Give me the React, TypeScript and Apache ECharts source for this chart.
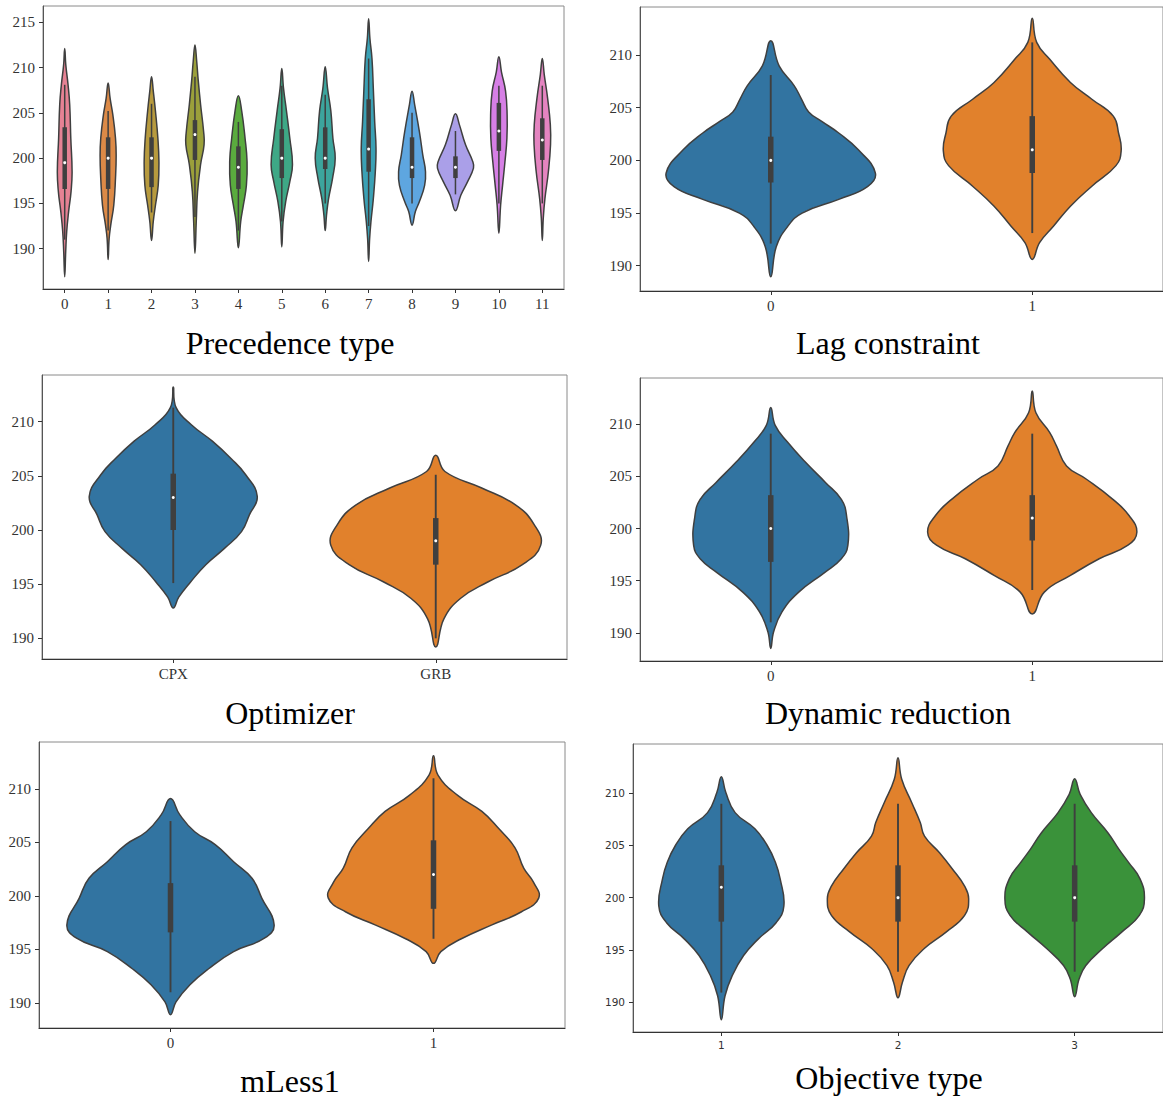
import React, { useEffect, useRef } from "react";
import * as echarts from "echarts";

const EDGE = "#3f3f3f";
const BLUE = "#3274a1";
const ORANGE = "#e1812c";
const GREEN = "#3a923a";

// ---------- Panel 1: Precedence type ----------
const precedenceCategories = ["0", "1", "2", "3", "4", "5", "6", "7", "8", "9", "10", "11"];
const precedenceColors = ["#e68294", "#dc8a47", "#b79a3e", "#9ba03b", "#5aab3e", "#3ea886", "#3ca59d", "#3ba1b5", "#5ea6e0", "#aa9fe8", "#d67fe5", "#e484c0"];
// violin outline: [value, half width as share of category band]
const prec0 = [[212.1, 0], [210.3, 0.025], [208.1, 0.077], [205.9, 0.115], [202.2, 0.14], [198.5, 0.17], [196.3, 0.146], [194.1, 0.09], [191.9, 0.046], [189.7, 0.023], [186.9, 0]];
const prec1 = [[208.3, 0], [206.6, 0.046], [204.8, 0.108], [202.2, 0.17], [200.3, 0.185], [197.8, 0.17], [194.8, 0.13], [192.6, 0.06], [191.1, 0.023], [188.8, 0]];
const prec2 = [[209.0, 0], [207.4, 0.04], [205.2, 0.09], [202.2, 0.146], [199.6, 0.17], [197.0, 0.154], [194.8, 0.09], [193.0, 0.04], [190.9, 0]];
const prec3 = [[212.5, 0], [210.7, 0.04], [208.5, 0.077], [205.9, 0.13], [202.9, 0.2], [201.5, 0.21], [199.3, 0.13], [196.3, 0.06], [193.0, 0.03], [189.5, 0]];
const prec4 = [[206.9, 0], [205.2, 0.077], [202.2, 0.154], [199.6, 0.2], [197.0, 0.185], [194.8, 0.115], [193.0, 0.054], [190.1, 0]];
const prec5 = [[209.9, 0], [207.7, 0.04], [205.2, 0.108], [202.2, 0.185], [199.3, 0.246], [197.4, 0.185], [195.2, 0.09], [193.0, 0.03], [190.2, 0]];
const prec6 = [[210.1, 0], [207.7, 0.054], [205.2, 0.13], [202.2, 0.177], [200.0, 0.23], [197.8, 0.17], [195.5, 0.077], [193.7, 0.03], [192.0, 0]];
const prec7 = [[215.4, 0], [213.2, 0.03], [211.0, 0.077], [207.7, 0.108], [204.0, 0.14], [201.1, 0.17], [198.5, 0.154], [195.5, 0.108], [193.0, 0.054], [191.1, 0.023], [188.6, 0]];
const prec8 = [[207.4, 0], [205.9, 0.06], [202.9, 0.17], [200.4, 0.246], [198.5, 0.31], [197.0, 0.29], [195.2, 0.17], [194.1, 0.077], [192.6, 0]];
const prec9 = [[204.9, 0], [203.7, 0.09], [201.5, 0.23], [199.6, 0.4], [198.9, 0.415], [197.4, 0.28], [195.9, 0.123], [194.2, 0]];
const prec10 = [[211.2, 0], [209.5, 0.06], [207.4, 0.154], [204.8, 0.19], [202.2, 0.185], [199.6, 0.14], [197.0, 0.085], [194.8, 0.04], [191.7, 0]];
const prec11 = [[211.0, 0], [209.2, 0.046], [206.6, 0.123], [203.7, 0.185], [201.5, 0.19], [198.5, 0.14], [195.5, 0.06], [193.4, 0.023], [190.9, 0]];
const precedenceShapes = [prec0, prec1, prec2, prec3, prec4, prec5, prec6, prec7, prec8, prec9, prec10, prec11];
// [lower whisker, q1, median, q3, upper whisker]
const precedenceStats = [
  [191.0, 196.6, 199.5, 203.4, 208.1],
  [192.0, 196.6, 200.0, 202.3, 205.2],
  [194.0, 196.8, 200.0, 202.3, 206.0],
  [193.5, 199.8, 202.6, 204.2, 209.0],
  [192.0, 196.6, 199.0, 201.3, 204.0],
  [193.0, 197.8, 200.0, 203.2, 208.0],
  [195.0, 198.8, 200.0, 203.4, 207.0],
  [192.5, 198.5, 201.0, 206.5, 211.0],
  [195.0, 197.8, 199.0, 202.3, 205.0],
  [196.0, 197.8, 199.0, 200.2, 203.0],
  [195.0, 200.8, 203.0, 206.1, 208.0],
  [195.0, 199.8, 202.0, 204.4, 208.0],
];
const precedenceTicks = [190, 195, 200, 205, 210, 215];

// ---------- Panel 2: Lag constraint ----------
const lagCategories = ["0", "1"];
const lag0 = [[211.36, 0], [208.98, 0.032], [207.08, 0.09], [205.8, 0.118], [204.6, 0.145], [203.7, 0.195], [202.6, 0.26], [201.0, 0.335], [198.8, 0.4], [197.5, 0.37], [196.3, 0.26], [195.0, 0.12], [193.7, 0.064], [191.8, 0.021], [188.95, 0]];
const lag1 = [[213.5, 0], [211.2, 0.017], [209.6, 0.067], [207.4, 0.146], [205.8, 0.228], [204.2, 0.31], [202.6, 0.33], [200.9, 0.34], [199.5, 0.32], [197.55, 0.228], [195.65, 0.146], [193.75, 0.081], [192.2, 0.028], [190.6, 0]];
const lagStats = [
  [192.1, 197.9, 200.0, 202.25, 208.1],
  [193.1, 198.8, 201.0, 204.2, 211.2],
];

// ---------- Panel 3: Optimizer ----------
const optimizerCategories = ["CPX", "GRB"];
const optCPX = [[213.2, 0], [211.3, 0.011], [209.7, 0.07], [208.2, 0.149], [206.6, 0.22], [205.1, 0.276], [203.1, 0.32], [201.4, 0.29], [199.85, 0.26], [198.3, 0.195], [196.8, 0.124], [195.2, 0.066], [193.8, 0.021], [192.8, 0]];
const optGRB = [[206.9, 0], [205.4, 0.035], [203.9, 0.173], [202.3, 0.305], [200.5, 0.375], [198.6, 0.4], [196.8, 0.33], [195.2, 0.198], [193.7, 0.095], [191.8, 0.031], [189.2, 0]];
const optimizerStats = [
  [195.1, 200.0, 203.0, 205.2, 211.3],
  [190.0, 196.8, 199.0, 201.1, 205.1],
];

// ---------- Panel 4: Dynamic reduction ----------
const dynamicCategories = ["0", "1"];
const dyn0 = [[211.6, 0], [209.9, 0.017], [208.3, 0.064], [206.3, 0.135], [204.4, 0.21], [202.8, 0.27], [201.2, 0.29], [198.4, 0.295], [197.1, 0.27], [195.8, 0.207], [193.9, 0.107], [192.0, 0.043], [190.1, 0.011], [188.5, 0]];
const dyn1 = [[213.2, 0], [211.1, 0.014], [209.2, 0.067], [207.9, 0.093], [206.0, 0.131], [204.75, 0.206], [202.85, 0.306], [201.25, 0.37], [199.65, 0.4], [198.4, 0.366], [197.1, 0.256], [195.5, 0.146], [193.9, 0.046], [191.8, 0]];
const dynamicStats = [
  [191.0, 196.8, 200.0, 203.2, 209.1],
  [194.1, 198.85, 201.0, 203.2, 209.1],
];

// ---------- Panel 5: mLess1 ----------
const mLessCategories = ["0", "1"];
const ml0 = [[209.1, 0], [207.6, 0.035], [206.0, 0.092], [204.8, 0.17], [203.2, 0.24], [201.65, 0.31], [199.8, 0.347], [197.3, 0.394], [196.05, 0.357], [194.8, 0.24], [193.2, 0.145], [191.7, 0.074], [190.1, 0.021], [188.9, 0]];
const ml1 = [[213.1, 0], [211.3, 0.017], [209.4, 0.092], [207.9, 0.184], [206.3, 0.248], [204.5, 0.31], [202.6, 0.343], [201.3, 0.38], [199.8, 0.4], [198.5, 0.333], [197.3, 0.222], [196.0, 0.106], [194.8, 0.028], [193.7, 0]];
const mLessStats = [
  [191.0, 196.6, 198.9, 201.2, 207.0],
  [196.0, 198.8, 202.0, 205.2, 211.0],
];

// ---------- Panel 6: Objective type ----------
const objectiveCategories = ["1", "2", "3"];
const obj1 = [[211.6, 0], [210.1, 0.025], [208.15, 0.078], [206.6, 0.19], [205.0, 0.26], [203.4, 0.306], [201.8, 0.333], [199.2, 0.354], [197.6, 0.31], [196.05, 0.21], [194.45, 0.126], [192.5, 0.061], [190.6, 0.021], [188.3, 0]];
const obj2 = [[213.4, 0], [211.35, 0.021], [209.1, 0.078], [207.2, 0.126], [205.9, 0.15], [204.3, 0.235], [202.7, 0.31], [201.1, 0.377], [199.9, 0.4], [198.3, 0.377], [196.7, 0.272], [195.1, 0.147], [193.5, 0.063], [191.9, 0.025], [190.4, 0]];
const obj3 = [[211.4, 0], [209.9, 0.031], [208.15, 0.094], [206.2, 0.189], [204.65, 0.25], [203.4, 0.304], [201.8, 0.37], [199.9, 0.395], [198.3, 0.366], [196.7, 0.266], [195.1, 0.157], [193.5, 0.063], [192.2, 0.025], [190.5, 0]];
const objectiveStats = [
  [190.9, 197.7, 201.0, 203.1, 209.0],
  [192.9, 197.7, 200.0, 203.1, 209.0],
  [192.9, 197.7, 200.0, 203.1, 209.0],
];

const smallTicks = [190, 195, 200, 205, 210];

const panels = [
  { title: "Precedence type", cats: precedenceCategories, shapes: precedenceShapes, stats: precedenceStats, colors: precedenceColors, ticks: precedenceTicks,
    grid: { left: 43, top: 6, width: 521, height: 283 }, yMin: 185.55, yMax: 216.8, tx: 290, ty: 343, font: "Liberation Serif", fs: 15, boxW: 4.5, whW: 1.5 },
  { title: "Lag constraint", cats: lagCategories, shapes: [lag0, lag1], stats: lagStats, colors: [BLUE, ORANGE], ticks: smallTicks,
    grid: { left: 640, top: 7, width: 524, height: 284 }, yMin: 187.6, yMax: 214.56, tx: 888, ty: 343, font: "Liberation Serif", fs: 15, boxW: 5.5, whW: 1.9 },
  { title: "Optimizer", cats: optimizerCategories, shapes: [optCPX, optGRB], stats: optimizerStats, colors: [BLUE, ORANGE], ticks: smallTicks,
    grid: { left: 42, top: 375, width: 525, height: 284 }, yMin: 188.09, yMax: 214.31, tx: 290, ty: 713, font: "Liberation Serif", fs: 15, boxW: 5.5, whW: 1.9 },
  { title: "Dynamic reduction", cats: dynamicCategories, shapes: [dyn0, dyn1], stats: dynamicStats, colors: [BLUE, ORANGE], ticks: smallTicks,
    grid: { left: 640, top: 378, width: 524, height: 283 }, yMin: 187.29, yMax: 214.44, tx: 888, ty: 713, font: "Liberation Serif", fs: 15, boxW: 5.5, whW: 1.9 },
  { title: "mLess1", cats: mLessCategories, shapes: [ml0, ml1], stats: mLessStats, colors: [BLUE, ORANGE], ticks: smallTicks,
    grid: { left: 39, top: 742, width: 526, height: 286 }, yMin: 187.66, yMax: 214.39, tx: 290, ty: 1081, font: "Liberation Serif", fs: 15, boxW: 5.5, whW: 1.9 },
  { title: "Objective type", cats: objectiveCategories, shapes: [obj1, obj2, obj3], stats: objectiveStats, colors: [BLUE, ORANGE, GREEN], ticks: smallTicks,
    grid: { left: 633, top: 744, width: 533, height: 288 }, yMin: 187.12, yMax: 214.73, tx: 889, ty: 1078, font: "DejaVu Sans", fs: 10.5, boxW: 5.5, whW: 1.9 },
];

function violinRenderer(shapes: number[][][], colors: string[], boxW: number, whW: number) {
  return (params: any, api: any) => {
    const i = params.dataIndex;
    const cat = api.value(0);
    const band = api.size([1, 0])[0];
    const cx = api.coord([cat, api.value(3)])[0];
    const y = (v: number) => api.coord([cat, v])[1];
    const shape = shapes[i];
    const pts: number[][] = [];
    for (const [v, w] of shape) pts.push([cx + w * band, y(v)]);
    for (let k = shape.length - 2; k >= 1; k--) {
      const [v, w] = shape[k];
      pts.push([cx - w * band, y(v)]);
    }
    const lo = y(api.value(1));
    const q1 = y(api.value(2));
    const med = y(api.value(3));
    const q3 = y(api.value(4));
    const hi = y(api.value(5));
    return {
      type: "group",
      children: [
        { type: "polygon", shape: { points: pts, smooth: 0.45 }, style: { fill: colors[i], stroke: EDGE, lineWidth: 1.5 } },
        { type: "line", shape: { x1: cx, y1: hi, x2: cx, y2: lo }, style: { stroke: EDGE, lineWidth: whW } },
        { type: "rect", shape: { x: cx - boxW / 2, y: q3, width: boxW, height: q1 - q3 }, style: { fill: EDGE } },
        { type: "circle", shape: { cx, cy: med, r: 1.5 }, style: { fill: "#ffffff" } },
      ],
    };
  };
}

export default function App() {
  const ref = useRef<HTMLDivElement>(null);
  useEffect(() => {
    if (!ref.current) return;
    const chart = echarts.init(ref.current, null, { renderer: "svg" });
    const option: any = {
      animation: false,
      grid: panels.map((p) => ({ ...p.grid, show: true, borderColor: "#8a8a8a", borderWidth: 1, backgroundColor: "transparent", containLabel: false })),
      xAxis: panels.map((p, i) => ({
        type: "category",
        gridIndex: i,
        data: p.cats,
        boundaryGap: true,
        axisLine: { show: true, lineStyle: { color: "#333", width: 1.2 } },
        axisTick: { show: true, alignWithLabel: true, length: 4, lineStyle: { color: "#333" } },
        axisLabel: { interval: 0, margin: 7, color: "#333", fontFamily: p.font, fontSize: p.fs },
        splitLine: { show: false },
      })),
      yAxis: panels.map((p, i) => ({
        type: "value",
        gridIndex: i,
        min: p.yMin,
        max: p.yMax,
        axisLine: { show: true, lineStyle: { color: "#555", width: 1 } },
        axisTick: { show: true, length: 4, customValues: p.ticks, lineStyle: { color: "#333" } },
        axisLabel: { margin: 8, customValues: p.ticks, color: "#333", fontFamily: p.font, fontSize: p.fs },
        splitLine: { show: false },
      })),
      series: panels.map((p, i) => ({
        type: "custom",
        xAxisIndex: i,
        yAxisIndex: i,
        renderItem: violinRenderer(p.shapes, p.colors, p.boxW, p.whW),
        encode: { x: 0, y: [1, 2, 3, 4, 5] },
        data: p.stats.map((s, k) => [k, ...s]),
        silent: true,
      })),
      graphic: panels.map((p) => ({
        type: "text",
        x: p.tx,
        y: p.ty,
        style: {
          text: p.title,
          font: '32px "Liberation Serif"',
          fill: "#000",
          align: "center",
          verticalAlign: "middle",
          textAlign: "center",
          textVerticalAlign: "middle",
        },
      })),
    };
    chart.setOption(option);
    return () => chart.dispose();
  }, []);
  return (
    <div
      ref={ref}
      style={{ position: "absolute", left: 0, top: 0, width: 1163, height: 1100, background: "#fff" }}
    />
  );
}
